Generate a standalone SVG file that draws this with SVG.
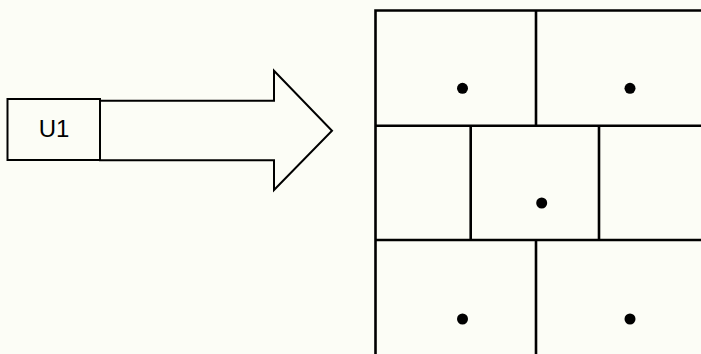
<svg xmlns="http://www.w3.org/2000/svg" width="701" height="354" viewBox="0 0 701 354">
<style>
.bg{fill:#fcfdf6}
.node{fill:none;stroke:#000;stroke-width:2}
.grid{fill:none;stroke:#000;stroke-width:2.6;stroke-linecap:square}
.dot{fill:#000}
.lbl{font-family:"Liberation Sans",Arial,sans-serif;font-size:24px;fill:#000;text-anchor:middle}
</style>
<rect class="bg" x="0" y="0" width="701" height="354"/>
<g id="connectors">
<polygon class="node" points="100,100.7 274,100.7 274,70.7 332,130.7 274,190 274,160.2 100,160.2"/>
</g>
<g id="U1">
<rect class="node" x="7.5" y="99" width="92.5" height="61"/>
<text class="lbl" x="54" y="137">U1</text>
</g>
<g id="grid">
<path class="grid" d="M375.5,10.5 H703 M375.5,10.5 V356 M375.5,125.7 H703 M375.5,240 H703 M536,10.5 V125.7 M470.7,125.7 V240 M599,125.7 V240 M536,240 V356"/>
</g>
<g id="cell-top-left"><circle class="dot" cx="462.5" cy="88.3" r="5.5"/></g>
<g id="cell-top-right"><circle class="dot" cx="630" cy="88.3" r="5.5"/></g>
<g id="cell-middle"><circle class="dot" cx="541.7" cy="203" r="5.5"/></g>
<g id="cell-bottom-left"><circle class="dot" cx="462.5" cy="319" r="5.5"/></g>
<g id="cell-bottom-right"><circle class="dot" cx="630" cy="319" r="5.5"/></g>
</svg>
